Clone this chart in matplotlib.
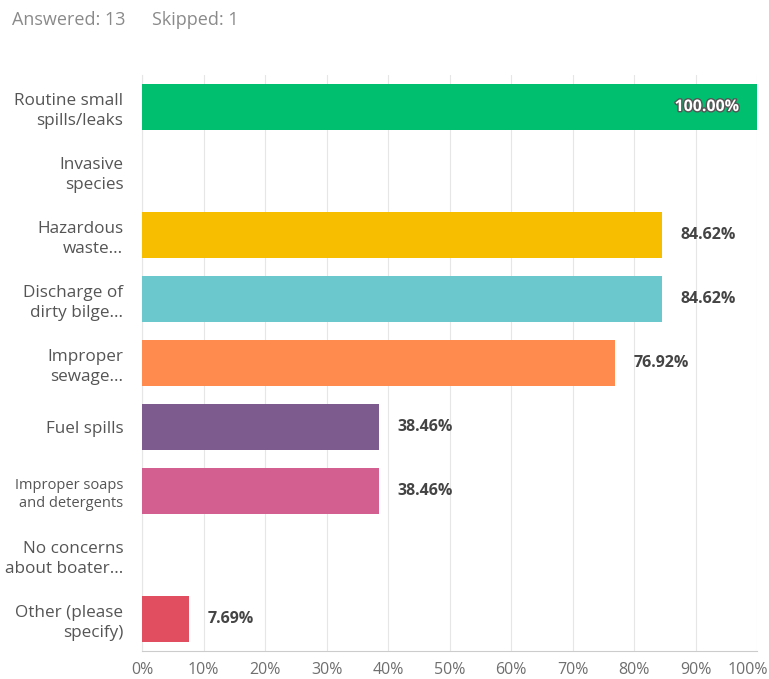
import matplotlib.pyplot as plt
import matplotlib.patheffects as pe
from matplotlib.transforms import ScaledTranslation

plt.rcParams['font.family'] = ['Open Sans', 'DejaVu Sans']

# Data
categories = ["Routine small\nspills/leaks", "Invasive\nspecies", "Hazardous\nwaste...",
              "Discharge of\ndirty bilge...", "Improper\nsewage...", "Fuel spills",
              "Improper soaps\nand detergents", "No concerns\nabout boater...",
              "Other (please\nspecify)"]
values = [100.00, 0.0, 84.62, 84.62, 76.92, 38.46, 38.46, 0.0, 7.69]
colors = ["#00BF6F", "#507CB6", "#F7BE00", "#6BC8CD", "#FF8B4F",
          "#7D5B8E", "#D35F90", "#8C8C8C", "#E04E5F"]
ticks = list(range(0, 101, 10))

fig = plt.figure(figsize=(7.69, 6.79), dpi=100)
ax = fig.add_axes([142 / 769, 28 / 679, 615 / 769, 576 / 679])

y = list(range(len(categories)))
ax.barh(y, values, height=0.72, color=colors, zorder=3)

for i, v in enumerate(values):
    if v == 0:
        continue
    if v >= 100:
        ax.text(v - 2.8, i, f"{v:.2f}%", ha='right', va='center', fontsize=11.5,
                fontweight='bold', color='white', zorder=4,
                path_effects=[pe.withStroke(linewidth=2, foreground='#555555')])
    else:
        ax.text(v + 3, i, f"{v:.2f}%", ha='left', va='center', fontsize=11.5,
                fontweight='bold', color='#444444', zorder=4)

ax.set_xlim(0, 100)
ax.set_ylim(len(categories) - 0.5, -0.5)
ax.set_xticks(ticks)
ax.set_xticklabels([f"{t}%" for t in ticks], fontsize=11.5, color='#6f6f6f')
ax.set_yticks(y)
ax.set_yticklabels(categories, fontsize=12.3, color='#555555', linespacing=1.3)
ax.tick_params(axis='both', length=0)
ax.tick_params(axis='x', pad=8)
ax.tick_params(axis='y', pad=13.5)
for lab, s in zip(ax.get_yticklabels(), categories):
    lab.set_ha('right')
    if s.startswith("Improper soaps"):
        lab.set_fontsize(10.5)
last = ax.get_xticklabels()[-1]
last.set_transform(last.get_transform() + ScaledTranslation(-9 / 100, 0, fig.dpi_scale_trans))

ax.grid(axis='x', color='#e6e6e6', linewidth=0.8, zorder=0)
for s in ['top', 'right']:
    ax.spines[s].set_visible(False)
ax.spines['left'].set_color('#e6e6e6')
ax.spines['bottom'].set_color('#cccccc')

fig.text(12 / 769, 1 - 20 / 679, "Answered: 13", fontsize=13,
         color='#8a8a8a', ha='left', va='center')
fig.text(152 / 769, 1 - 20 / 679, "Skipped: 1", fontsize=13,
         color='#8a8a8a', ha='left', va='center')

fig.savefig("out.png", dpi=100)
